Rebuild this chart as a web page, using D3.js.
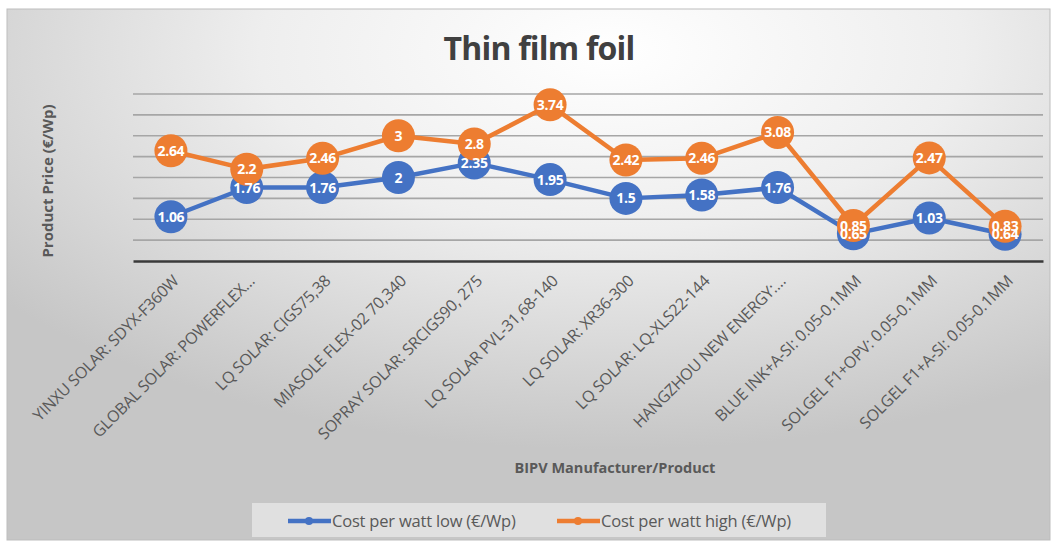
<!DOCTYPE html>
<html><head><meta charset="utf-8">
<script src="https://cdn.jsdelivr.net/npm/d3@7"></script>
<style>body{margin:0;background:#fff;}svg{display:block;}</style>
</head><body>
<svg id="c" width="1056" height="545"></svg>
<script>
const categories = ["YINXU SOLAR: SDYX-F360W","GLOBAL SOLAR: POWERFLEX…","LQ SOLAR: CIGS75,38","MIASOLE FLEX-02 70,340","SOPRAY SOLAR: SRCIGS90, 275","LQ SOLAR PVL-31,68-140","LQ SOLAR: XR36-300","LQ SOLAR: LQ-XLS22-144","HANGZHOU NEW ENERGY:…","BLUE INK+A-SI: 0.05-0.1MM","SOLGEL F1+OPV: 0.05-0.1MM","SOLGEL F1+A-SI: 0.05-0.1MM"];
const lowValues  = [1.06,1.76,1.76,2,2.35,1.95,1.5,1.58,1.76,0.65,1.03,0.64];
const highValues = [2.64,2.2,2.46,3,2.8,3.74,2.42,2.46,3.08,0.85,2.47,0.83];
const seriesNames = ["Cost per watt low (€/Wp)","Cost per watt high (€/Wp)"];
const yTicks = [0,0.5,1,1.5,2,2.5,3,3.5,4];
const colors = ["#4472C4","#ED7D31"];

(function(){
const svg = d3.select("#c");
const defs = svg.append("defs");
const rg = defs.append("radialGradient").attr("id","bg")
  .attr("cx","58%").attr("cy","8%").attr("r","75%")
  .attr("gradientUnits","objectBoundingBox");
rg.append("stop").attr("offset","0%").attr("stop-color","#ffffff");
rg.append("stop").attr("offset","45%").attr("stop-color","#eeeeee");
rg.append("stop").attr("offset","100%").attr("stop-color","#c6c6c6");

svg.append("rect").attr("x",7).attr("y",9).attr("width",1043).attr("height",531)
  .attr("fill","url(#bg)").attr("stroke","#bdbdbd").attr("stroke-width",1);

const pLeft=133, pRight=1043, pTop=94, pBottom=261;
const x = d3.scaleBand().domain(categories).range([pLeft,pRight]);
const y = d3.scaleLinear().domain([0,4]).range([pBottom,pTop]);

svg.append("g").selectAll("line").data(yTicks.filter(d=>d>0)).join("line")
  .attr("x1",pLeft).attr("x2",pRight).attr("y1",d=>y(d)).attr("y2",d=>y(d))
  .attr("stroke","#a6a6a6").attr("stroke-width",1.6);

const xAxis = svg.append("g").attr("transform",`translate(0,${pBottom})`)
  .call(d3.axisBottom(x).tickSize(0).tickFormat(""));
xAxis.select(".domain").attr("stroke","#3a3a3a").attr("stroke-width",2.5);

svg.append("g").selectAll("text").data(categories).join("text")
  .attr("transform",d=>`translate(${x(d)+x.bandwidth()/2+5},${pBottom+17}) rotate(-45)`)
  .attr("text-anchor","end").attr("dy","0.35em")
  .attr("font-family","Open Sans, sans-serif").attr("font-size",16)
  .attr("letter-spacing",-0.2)
  .attr("fill","#595959").text(d=>d);

svg.append("text").attr("x",539).attr("y",60).attr("text-anchor","middle")
  .attr("font-family","Open Sans, sans-serif").attr("font-weight","bold")
  .attr("font-size",32).attr("fill","#404040").attr("letter-spacing",-0.8).text("Thin film foil");

svg.append("text").attr("transform","translate(53,181) rotate(-90)").attr("text-anchor","middle")
  .attr("font-family","Open Sans, sans-serif").attr("font-weight","bold")
  .attr("font-size",15).attr("fill","#595959").text("Product Price (€/Wp)");

svg.append("text").attr("x",615).attr("y",473).attr("text-anchor","middle")
  .attr("font-family","Open Sans, sans-serif").attr("font-weight","bold")
  .attr("font-size",14.5).attr("fill","#595959").text("BIPV Manufacturer/Product");

const cx = d=>x(d)+x.bandwidth()/2;
const series = [lowValues, highValues];
const line = d3.line().x((d,i)=>cx(categories[i])).y(d=>y(d));

series.forEach((vals,si)=>{
  svg.append("path").datum(vals).attr("d",line).attr("fill","none")
    .attr("stroke",colors[si]).attr("stroke-width",4.5).attr("stroke-linejoin","round");
  svg.append("g").selectAll("circle").data(vals).join("circle")
    .attr("cx",(d,i)=>cx(categories[i])).attr("cy",d=>y(d)).attr("r",16.5)
    .attr("fill",colors[si]);
});
series.forEach((vals,si)=>{
  svg.append("g").selectAll("text").data(vals).join("text")
    .attr("x",(d,i)=>cx(categories[i])).attr("y",d=>y(d)).attr("dy","0.36em")
    .attr("text-anchor","middle").attr("font-family","Open Sans, sans-serif")
    .attr("font-weight","bold").attr("font-size",14).attr("letter-spacing",-0.3)
    .attr("fill","#ffffff").text(d=>d);
});

const lg = svg.append("g");
lg.append("rect").attr("x",252).attr("y",503).attr("width",574).attr("height",34)
  .attr("fill","#e6e6e6").attr("opacity",0.8);
const legX = [288,557];
seriesNames.forEach((n,i)=>{
  lg.append("line").attr("x1",legX[i]).attr("x2",legX[i]+43).attr("y1",521).attr("y2",521)
    .attr("stroke",colors[i]).attr("stroke-width",4.5);
  lg.append("circle").attr("cx",legX[i]+21).attr("cy",521).attr("r",4).attr("fill",colors[i]);
  lg.append("text").attr("x",legX[i]+44).attr("y",521).attr("dy","0.35em")
    .attr("font-family","Open Sans, sans-serif").attr("font-size",16.5)
    .attr("letter-spacing",-0.2)
    .attr("fill","#595959").text(n);
});
})();
</script>
</body></html>
